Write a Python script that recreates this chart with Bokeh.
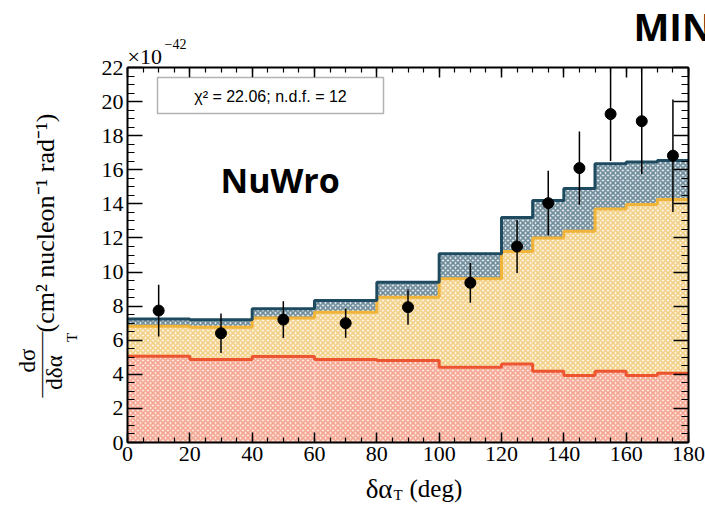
import math
from bokeh.plotting import figure
from bokeh.models import (Label, BoxAnnotation, Range1d, FixedTicker,
                          LinearAxis, ColumnDataSource)
from bokeh.embed import file_html
from bokeh.resources import INLINE

# ---------------- data (units of 1e-42 cm^2 / nucleon / rad) ----------------
bin_edges = [0, 20, 40, 60, 80, 100, 120, 130, 140, 150, 160, 170, 180]
total_vals = [7.25, 7.2, 7.84, 8.33, 9.40, 11.07, 13.2, 14.2, 14.9, 16.35, 16.45, 16.55]
mid_vals = [6.82, 6.76, 7.31, 7.64, 8.52, 9.6, 11.2, 12.0, 12.4, 13.7, 13.96, 14.25]
low_vals = [5.06, 4.87, 5.04, 4.87, 4.81, 4.42, 4.61, 4.18, 3.93, 4.18, 3.93, 4.07]

data_x = [10, 30, 50, 70, 90, 110, 125, 135, 145, 155, 165, 175]
data_y = [7.74, 6.41, 7.21, 7.0, 7.94, 9.37, 11.5, 14.04, 16.1, 19.27, 18.85, 16.83]
data_err = [1.52, 1.16, 1.08, 0.86, 1.03, 1.17, 1.55, 1.9, 2.15, 2.75, 3.1, 3.3]

x_major_ticks = [0, 20, 40, 60, 80, 100, 120, 140, 160, 180]
y_major_ticks = [0, 2, 4, 6, 8, 10, 12, 14, 16, 18, 20, 22]
x_lim = (0, 180)
y_lim = (0, 22)
chi2_text = "\u03c7\u00b2 = 22.06; n.d.f. = 12"

# ---------------- layout geometry (pixels) ----------------
W, H = 705, 506
FL, FR, FT, FB = 127, 688, 67, 442          # axes box in canvas pixels
sx = (FR - FL) / (x_lim[1] - x_lim[0])
sy = (FB - FT) / (y_lim[1] - y_lim[0])

def dx(px):
    return x_lim[0] + (px - FL) / sx

def dy(py):
    return y_lim[0] + (FB - py) / sy

p = figure(width=W, height=H,
           x_range=Range1d(dx(0), dx(W)), y_range=Range1d(dy(H), dy(0)),
           output_backend="svg", toolbar_location=None,
           x_axis_type=None, y_axis_type=None,
           min_border=0, min_border_left=0, min_border_right=0,
           min_border_top=0, min_border_bottom=0)
p.title.visible = False
p.background_fill_color = "white"
p.border_fill_color = "white"
p.outline_line_color = None
p.grid.visible = False

lefts = bin_edges[:-1]
rights = bin_edges[1:]
src = ColumnDataSource(dict(left=lefts, right=rights, total=total_vals,
                            mid=mid_vals, low=low_vals, zero=[0] * len(low_vals)))

# stacked hatched fills
p.quad(left="left", right="right", bottom="mid", top="total", source=src,
       fill_color="#dfe6ea", line_color=None,
       hatch_pattern="diagonal_cross", hatch_color="#6f8c9a", hatch_scale=5, hatch_weight=1.6)
p.quad(left="left", right="right", bottom="low", top="mid", source=src,
       fill_color="#fdf5e2", line_color=None,
       hatch_pattern="diagonal_cross", hatch_color="#f3d088", hatch_scale=5, hatch_weight=1.6)
p.quad(left="left", right="right", bottom="zero", top="low", source=src,
       fill_color="#fde5de", line_color=None,
       hatch_pattern="diagonal_cross", hatch_color="#f5a692", hatch_scale=5, hatch_weight=1.6)

# step outlines
p.step(x=bin_edges, y=low_vals + [low_vals[-1]], mode="after", line_color="#ec5530", line_width=3)
p.step(x=bin_edges, y=mid_vals + [mid_vals[-1]], mode="after", line_color="#f0b43a", line_width=3)
p.step(x=bin_edges, y=total_vals + [total_vals[-1]], mode="after", line_color="#1f4b60", line_width=3)

# data points with error bars (bars clipped at the top of the axes box)
dsrc = ColumnDataSource(dict(x=data_x, y=data_y,
                             lo=[max(v - e, y_lim[0]) for v, e in zip(data_y, data_err)],
                             hi=[min(v + e, y_lim[1]) for v, e in zip(data_y, data_err)]))
p.segment(x0="x", y0="lo", x1="x", y1="hi", source=dsrc, line_color="black", line_width=1.5)
p.scatter(x="x", y="y", source=dsrc, size=11, fill_color="black", line_color="black")

# ---------------- axes (drawn as a closed box with inward ticks) ----------------
serif = "Liberation Serif"
x_minor = [x_lim[0] + 5 * i for i in range(int((x_lim[1] - x_lim[0]) / 5) + 1)]
y_minor = [y_lim[0] + 0.5 * i for i in range(int((y_lim[1] - y_lim[0]) / 0.5) + 1)]

def make_axis(ticks, minor, loc, bounds, tin, mtin, labels, standoff=4):
    ax = LinearAxis(ticker=FixedTicker(ticks=ticks, minor_ticks=minor),
                    fixed_location=loc, bounds=bounds)
    ax.axis_line_color = "black"
    ax.axis_line_width = 2
    ax.major_tick_in = tin
    ax.major_tick_out = 0
    ax.minor_tick_in = mtin
    ax.minor_tick_out = 0
    ax.major_tick_line_width = 1.5
    ax.minor_tick_line_width = 1.2
    ax.major_tick_line_color = "black"
    ax.minor_tick_line_color = "black"
    if labels:
        ax.major_label_text_font = serif
        ax.major_label_text_font_size = "22px"
        ax.major_label_text_color = "black"
        ax.major_label_standoff = standoff
    else:
        ax.major_label_text_font_size = "0px"
        ax.major_label_text_alpha = 0
    return ax

p.add_layout(make_axis(x_major_ticks, x_minor, y_lim[0], x_lim, 10, 5, True, 4), "below")
p.add_layout(make_axis(y_major_ticks, y_minor, x_lim[0], y_lim, 15, 7, True, 4), "left")
p.add_layout(make_axis(x_major_ticks, x_minor, y_lim[1], x_lim, 10, 5, False), "above")
p.add_layout(make_axis(y_major_ticks, y_minor, x_lim[1], y_lim, 15, 7, False), "right")

# ---------------- annotations ----------------
p.add_layout(BoxAnnotation(left=dx(157), right=dx(383), bottom=dy(113), top=dy(77),
                           fill_color="white", fill_alpha=1.0,
                           line_color="black", line_width=1.5))

def lab(px, py, text, size, font=serif, align="left", baseline="alphabetic",
        angle=0.0, style="normal"):
    p.add_layout(Label(x=dx(px), y=dy(py), text=text, text_font=font,
                       text_font_size=size, text_align=align, text_baseline=baseline,
                       angle=angle, text_font_style=style, text_color="black"))

lab(270, 96, chi2_text, "16px", font="Liberation Sans", align="center", baseline="middle")
lab(220, 179, "NuWro", "34px", font="Open Sans", style="bold")
lab(633, 25, "MINERvA", "38px", font="Open Sans", style="bold")

# x10^-42 multiplier
lab(127, 56, "\u00d710", "22px")
lab(164, 43, "\u221242", "14px")

# x-axis title: delta alpha_T (deg)
lab(392, 488, "\u03b4\u03b1", "27px", align="right")
lab(393, 494, "T", "15px")
lab(409, 488, "(deg)", "25px")

# y-axis title (rotated)
rot = math.pi / 2
lab(27, 360, "d\u03c3", "23px", align="center", baseline="middle", angle=rot)
lab(40, 364, "\u2014\u2014\u2014", "22px", align="center", baseline="middle", angle=rot)
lab(54, 372, "d\u03b4\u03b1", "23px", align="center", baseline="middle", angle=rot)
lab(71, 337, "T", "15px", align="center", baseline="middle", angle=rot)
lab(45, 332, "(cm\u00b2 nucleon\u207b\u00b9 rad\u207b\u00b9)", "26px", align="left",
    baseline="middle", angle=rot)

open("out.html", "w").write(file_html(p, INLINE))
